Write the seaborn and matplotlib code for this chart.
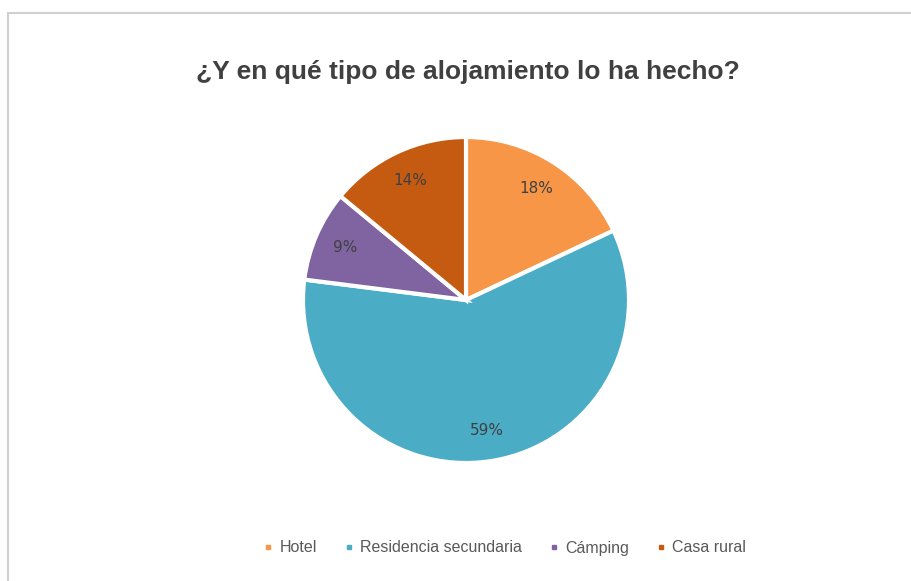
import seaborn as sns
import matplotlib.pyplot as plt
from matplotlib.patches import Rectangle
from matplotlib.lines import Line2D

# datos
categorias = ['Hotel', 'Residencia secundaria', 'Cámping', 'Casa rural']
porcentajes = [18, 59, 9, 14]
colores = ['#F79646', '#4BACC6', '#8064A2', '#C55A11']

sns.set_theme(style="white")
plt.rcParams['font.family'] = ['Liberation Sans', 'DejaVu Sans']

fig = plt.figure(figsize=(9.12, 5.81), dpi=100)
ax = fig.add_axes([0, 0, 1, 1])
ax.set_xlim(0, 912)
ax.set_ylim(0, 581)
ax.set_aspect('equal')
ax.axis('off')

# tarta
ax.pie(porcentajes, colors=colores, startangle=90, counterclock=False,
       center=(466, 281), radius=163, autopct='%1.0f%%', pctdistance=0.81,
       wedgeprops=dict(edgecolor='white', linewidth=3),
       textprops=dict(color='#404040', fontsize=11, family=['DejaVu Sans']))
ax.set_xlim(0, 912)
ax.set_ylim(0, 581)

# titulo
fig.text(468 / 912, 1 - 72 / 581, '¿Y en qué tipo de alojamiento lo ha hecho?',
         ha='center', va='center', fontsize=19, fontweight='bold', color='#404040')

# leyenda
handles = [Line2D([], [], marker='s', linestyle='none', markersize=3.5,
                  markerfacecolor=c, markeredgecolor=c) for c in colores]
fig.legend(handles, categorias, loc='center', bbox_to_anchor=(504 / 912, 1 - 548 / 581),
           ncol=4, frameon=False, fontsize=11.5, labelcolor='#595959',
           handletextpad=0.3, columnspacing=1.6, handlelength=0.8)

# borde
fig.patches.append(Rectangle((8 / 912, -0.1), 1.1, 1.1 - 13 / 581,
                             transform=fig.transFigure, fill=False,
                             edgecolor='#d0d0d0', linewidth=1.5))

fig.savefig('out.png', dpi=100)
